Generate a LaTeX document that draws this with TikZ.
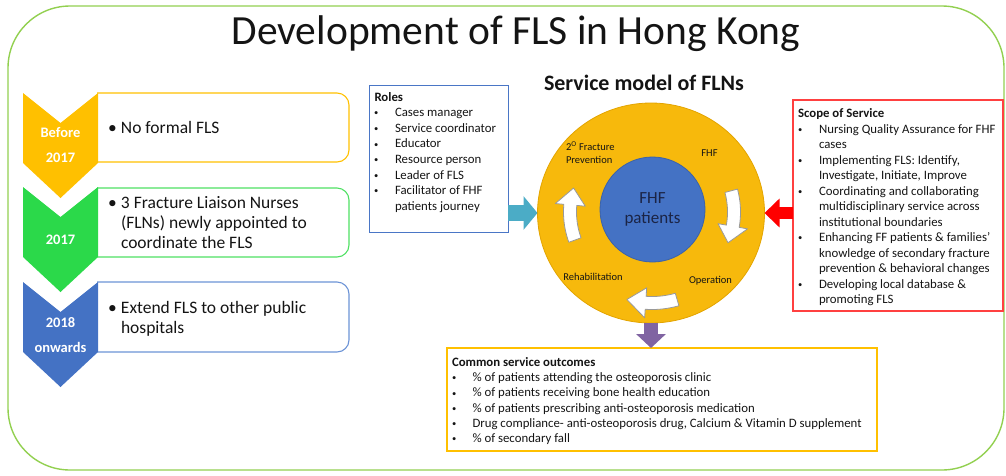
\documentclass[tikz,border=0pt]{standalone}
\usepackage{fontspec}
\setmainfont{Carlito}
\usetikzlibrary{shapes.geometric,arrows.meta}
\definecolor{bordergreen}{HTML}{92D050}
\definecolor{chevO}{HTML}{FFC000}
\definecolor{chevG}{HTML}{2BD94A}
\definecolor{chevB}{HTML}{4472C4}
\definecolor{boxO}{HTML}{FFC000}
\definecolor{boxG}{HTML}{4FE063}
\definecolor{boxB}{HTML}{6C93D6}
\definecolor{rolesB}{HTML}{4A76C6}
\definecolor{scopeR}{HTML}{FF4040}
\definecolor{ringY}{HTML}{F7B90C}
\definecolor{ringE}{HTML}{E3A400}
\definecolor{innerB}{HTML}{4472C4}
\definecolor{innerE}{HTML}{3A62AA}
\definecolor{arrC}{HTML}{4BACC6}
\definecolor{arrR}{HTML}{FF0000}
\definecolor{arrP}{HTML}{8064A2}
\definecolor{txtc}{HTML}{141414}
\definecolor{navy}{HTML}{1B2445}
\newcommand{\sbul}{\raisebox{0.8pt}{\fontsize{8.5}{8.5}\selectfont\textbullet}}
\newcommand{\ringarrow}[3]{%
  \filldraw[ringarr] plot[domain=#2:#3+12, samples=24] (\x:{#1+6.5})
    -- ({#3+12}:{#1+15}) -- (#3:#1) -- ({#3+12}:{#1-15})
    -- plot[domain=#3+12:#2, samples=24] (\x:{#1-6.5}) -- cycle;}
\begin{document}
\begin{tikzpicture}[x=1pt,y=-1pt,
  every node/.style={inner sep=0pt, outer sep=0pt, text=txtc},
  tlbox/.style={rounded corners=12, line width=1.1pt},
  chevtxt/.style={text=white, font=\bfseries\fontsize{14.5}{25}\selectfont, align=center},
  tltxt/.style={anchor=base west, font=\fontsize{17.5}{20}\selectfont},
  lstR/.style={anchor=base west, font=\fontsize{12.8}{15.6}\selectfont},
  lstS/.style={anchor=base west, font=\fontsize{12.8}{15.5}\selectfont},
  lstO/.style={anchor=base west, font=\fontsize{12.8}{15.2}\selectfont},
  framebox/.style={draw, rectangle, anchor=north west},
  ringlbl/.style={font=\fontsize{10.5}{13}\selectfont, text=txtc},
  ringarr/.style={fill=white, draw=gray!80, line width=0.8pt, line join=round},
  blockarrow/.style={line width=#1, line cap=butt}
]
\useasboundingbox (0,0) rectangle (1006,475);
% outer frame
\draw[bordergreen, line width=1.4pt, rounded corners=62] (8,6) rectangle (1004,470);
% title
\node[anchor=base, font=\fontsize{41.5}{49}\selectfont] (title) at (516,44) {Development of FLS in Hong Kong};
% timeline boxes
\draw[tlbox, boxO] (97,93) -- (349,93) -- (349,162) -- (97,162);
\draw[tlbox, boxG] (97,188) -- (349,188) -- (349,257) -- (97,257);
\draw[tlbox, boxB] (97,282) -- (349,282) -- (349,352) -- (97,352);
% chevrons
\foreach \yy/\cc in {93/chevO,187/chevG,282/chevB}
  \fill[\cc] (23,\yy) -- (60.5,\yy+30) -- (98,\yy) -- (98,\yy+70) -- (60.5,\yy+105) -- (23,\yy+70) -- cycle;
\node[chevtxt] (c1) at (60.5,145.5) {Before\\2017};
\node[chevtxt] (c2) at (60.5,240) {2017};
\node[chevtxt] (c3) at (60.5,335.5) {2018\\onwards};
% timeline texts
\node[tltxt] (t1) at (108,133) {\begin{tabular}[t]{@{}p{13pt}@{}l@{}}\textbullet & No formal FLS\end{tabular}};
\node[tltxt] (t2) at (108,208) {\begin{tabular}[t]{@{}p{13pt}@{}l@{}}\textbullet & 3 Fracture Liaison Nurses\\ & (FLNs) newly appointed to\\ & coordinate the FLS\end{tabular}};
\node[tltxt] (t3) at (108,313) {\begin{tabular}[t]{@{}p{13pt}@{}l@{}}\textbullet & Extend FLS to other public\\ & hospitals\end{tabular}};
% roles box
\node[framebox, draw=rolesB, line width=1pt, minimum width=139, minimum height=147] (roles) at (369,85) {};
\node[lstR] (rolesT) at (374,101) {\begin{tabular}[t]{@{}p{21pt}@{}l@{}}
\multicolumn{2}{@{}l@{}}{\hspace{0.5pt}\textbf{Roles}}\\
\sbul & Cases manager\\
\sbul & Service coordinator\\
\sbul & Educator\\
\sbul & Resource person\\
\sbul & Leader of FLS\\
\sbul & Facilitator of FHF\\
 & patients journey
\end{tabular}};
% service model title
\node[anchor=base, font=\bfseries\fontsize{22}{26}\selectfont] (smt) at (644,90) {Service model of FLNs};
% ring
\node[ellipse, fill=ringY, draw=ringE, line width=0.8pt, minimum width=227, minimum height=220] (ring) at (651,213) {};
\node[circle, fill=innerB, draw=innerE, line width=0.8pt, minimum size=105, text=navy, align=center, font=\fontsize{17}{20}\selectfont] (core) at (652.5,209.5) {FHF\\patients};
\begin{scope}[shift={(652,212)}, yscale=-1]
  \ringarrow{82}{15}{-22}
  \ringarrow{91}{-74}{-106}
  \ringarrow{82}{200}{163}
\end{scope}
\node[ringlbl, anchor=west, align=left] (lblprev) at (566,152.5) {2\textsuperscript{O} Fracture\\Prevention};
\node[ringlbl] (lblfhf) at (709.5,153) {FHF};
\node[ringlbl] (lblrehab) at (593,277) {Rehabilitation};
\node[ringlbl] (lblop) at (710.5,281) {Operation};
% scope box
\node[framebox, draw=scopeR, line width=1.3pt, minimum width=210, minimum height=211] (scope) at (793,100) {};
\node[lstS] (scopeT) at (798,117.5) {\begin{tabular}[t]{@{}p{21pt}@{}l@{}}
\multicolumn{2}{@{}l@{}}{\textbf{Scope of Service}}\\
\sbul & Nursing Quality Assurance for FHF\\
 & cases\\
\sbul & Implementing FLS: Identify,\\
 & Investigate, Initiate, Improve\\
\sbul & Coordinating and collaborating\\
 & multidisciplinary service across\\
 & institutional boundaries\\
\sbul & Enhancing FF patients \& families’\\
 & knowledge of secondary fracture\\
 & prevention \& behavioral changes\\
\sbul & Developing local database \&\\
 & promoting FLS
\end{tabular}};
% outcomes box
\node[framebox, draw=boxO, line width=1.3pt, minimum width=430, minimum height=103] (outcomes) at (447,348) {};
\node[lstO] (outT) at (452,366.5) {\begin{tabular}[t]{@{}p{20.5pt}@{}l@{}}
\multicolumn{2}{@{}l@{}}{\textbf{Common service outcomes}}\\
\sbul & \% of patients attending the osteoporosis clinic\\
\sbul & \% of patients receiving bone health education\\
\sbul & \% of patients prescribing anti-osteoporosis medication\\
\sbul & Drug compliance- anti-osteoporosis drug, Calcium \& Vitamin D supplement\\
\sbul & \% of secondary fall
\end{tabular}};
% connectors
\draw[arrC, blockarrow=16pt, -{Triangle[width=33pt,length=14pt]}] (roles.east |- ring.west) -- (ring.west);
\draw[arrR, blockarrow=12pt, -{Triangle[width=28pt,length=15pt]}] (scope.west |- ring.east) -- (ring.east);
\draw[arrP, blockarrow=14pt, -{Triangle[width=29pt,length=14pt]}] (ring.south) -- (ring.south |- outcomes.north);
\end{tikzpicture}
\end{document}
